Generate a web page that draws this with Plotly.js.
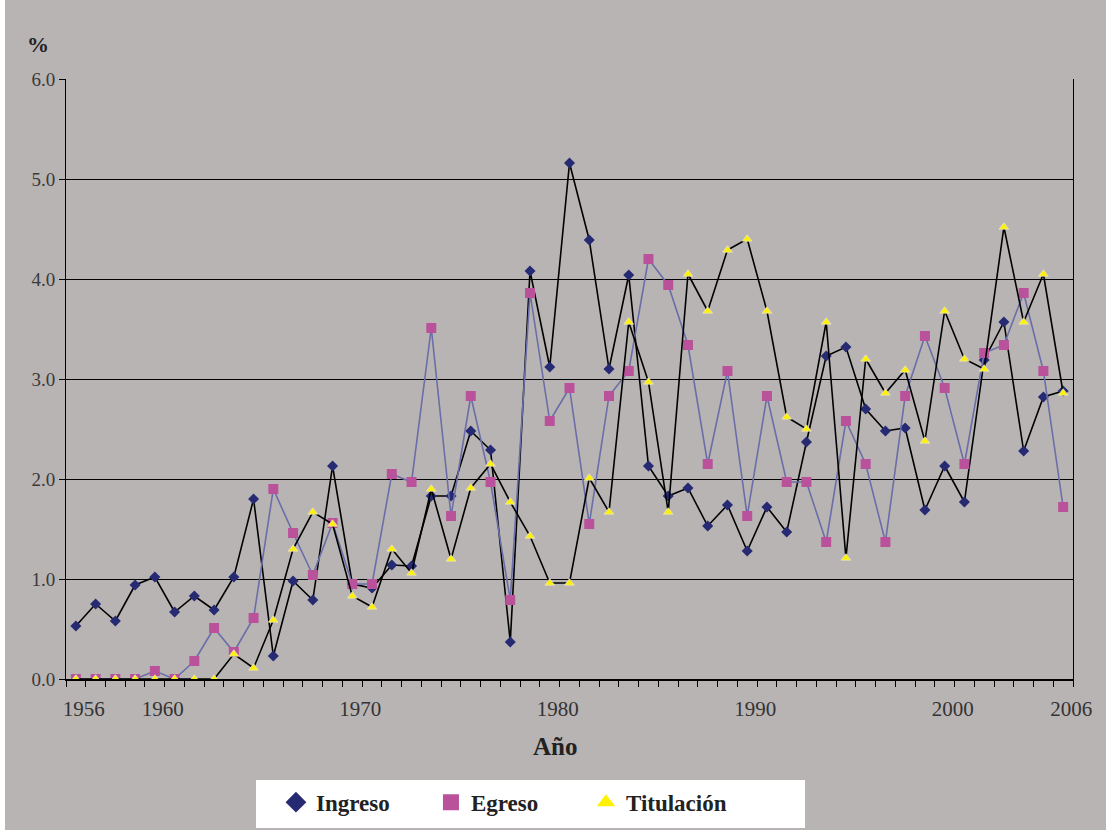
<!DOCTYPE html>
<html>
<head>
<meta charset="utf-8">
<script src="https://cdn.plot.ly/plotly-3.0.1.min.js"></script>
<style>
  html, body { margin: 0; padding: 0; background: #ffffff; }
  #chart { position: absolute; left: 5px; top: 0; width: 1101px; height: 830px; }
</style>
</head>
<body>
<div id="chart"></div>
<script>
// Years 1956..2006
const years = [];
for (let y = 1956; y <= 2006; y++) years.push(y);

const ingreso = [
  0.53, 0.75, 0.58, 0.94, 1.02, 0.67, 0.83, 0.69, 1.02, 1.80,
  0.23, 0.98, 0.79, 2.13, 0.95, 0.91, 1.14, 1.13, 1.83, 1.83,
  2.48, 2.29, 0.37, 4.08, 3.12, 5.16, 4.39, 3.10, 4.04, 2.13,
  1.83, 1.91, 1.53, 1.74, 1.28, 1.72, 1.47, 2.37, 3.23, 3.32,
  2.70, 2.48, 2.51, 1.69, 2.13, 1.77, 3.19, 3.57, 2.28, 2.82,
  2.88
];

const egreso = [
  0.00, 0.00, 0.00, 0.00, 0.08, 0.00, 0.18, 0.51, 0.27, 0.61,
  1.90, 1.46, 1.04, 1.56, 0.95, 0.95, 2.05, 1.97, 3.51, 1.63,
  2.83, 1.97, 0.79, 3.86, 2.58, 2.91, 1.55, 2.83, 3.08, 4.20,
  3.94, 3.34, 2.15, 3.08, 1.63, 2.83, 1.97, 1.97, 1.37, 2.58,
  2.15, 1.37, 2.83, 3.43, 2.91, 2.15, 3.26, 3.34, 3.86, 3.08,
  1.72
];

const titulacion = [
  0.00, 0.00, 0.00, 0.00, 0.00, 0.00, 0.00, 0.00, 0.25, 0.11,
  0.59, 1.30, 1.67, 1.55, 0.83, 0.72, 1.30, 1.06, 1.90, 1.20,
  1.91, 2.15, 1.77, 1.43, 0.96, 0.96, 2.01, 1.67, 3.57, 2.97,
  1.67, 4.05, 3.68, 4.29, 4.40, 3.68, 2.62, 2.50, 3.57, 1.21,
  3.20, 2.86, 3.09, 2.38, 3.68, 3.20, 3.10, 4.52, 3.57, 4.05,
  2.86
];

const tickYears = [1956, 1960, 1970, 1980, 1990, 2000, 2006];
const tickLabels = ['1956', '1960', '1970', '1980', '1990', '2000', '2006'];
const seriesNames = ['Ingreso', 'Egreso', 'Titulación'];

const colIngreso = '#262A73';
const colEgreso = '#BA519B';
const colTitul = '#FFF200';
const bg = '#B9B4B4';
const serif = 'Liberation Serif';

const traces = [
  { x: years, y: ingreso, name: seriesNames[0], mode: 'lines+markers', showlegend: false,
    line: { color: '#000000', width: 1.6 },
    marker: { symbol: 'diamond', size: 8.5, color: colIngreso } },
  { x: years, y: egreso, name: seriesNames[1], mode: 'lines+markers', showlegend: false,
    line: { color: '#6A6EA8', width: 1.6 },
    marker: { symbol: 'square', size: 10, color: colEgreso } },
  { x: years, y: titulacion, name: seriesNames[2], mode: 'lines+markers', showlegend: false,
    line: { color: '#000000', width: 1.6 },
    marker: { symbol: 'triangle-up', size: 8.5, color: colTitul, line: { color: '#E6E1C8', width: 0.8 } } },
  // legend-only entries (markers only, as in the reference legend)
  { x: [null], y: [null], name: seriesNames[0], mode: 'markers',
    marker: { symbol: 'diamond', size: 16, color: colIngreso } },
  { x: [null], y: [null], name: seriesNames[1], mode: 'markers',
    marker: { symbol: 'square', size: 16, color: colEgreso } },
  { x: [null], y: [null], name: seriesNames[2], mode: 'markers',
    marker: { symbol: 'triangle-up', size: 16, color: colTitul } }
];

const layout = {
  width: 1101, height: 830,
  paper_bgcolor: bg, plot_bgcolor: bg,
  margin: { l: 61, r: 33, t: 79, b: 151, autoexpand: false },
  font: { family: serif, color: '#333333' },
  xaxis: {
    range: [1955.5, 2006.5],
    tickmode: 'array', tickvals: tickYears, ticktext: tickLabels,
    ticks: 'outside', ticklen: 6, tickcolor: 'rgba(0,0,0,0)',
    ticklabelshift: 8, ticklabelstandoff: 4,
    tickfont: { family: serif, size: 21, color: '#333333' },
    minor: { tickmode: 'linear', tick0: 1955.5, dtick: 1, ticks: 'outside', ticklen: 6, tickwidth: 1, tickcolor: '#000000', showgrid: false },
    showgrid: false, zeroline: false,
    showline: true, linecolor: '#000000', linewidth: 2
  },
  yaxis: {
    range: [0, 6], tickmode: 'linear', tick0: 0, dtick: 1, tickformat: '.1f',
    ticks: 'outside', ticklen: 6, tickcolor: '#000000', tickwidth: 1,
    tickfont: { family: serif, size: 19, color: '#3a3a3a' },
    showgrid: true, gridcolor: '#000000', gridwidth: 1,
    zeroline: false,
    showline: true, linecolor: '#000000', linewidth: 1, mirror: true
  },
  shapes: [
    { type: 'rect', xref: 'paper', yref: 'paper', x0: 0.1887, x1: 0.7339, y0: -0.2483, y1: -0.1683,
      fillcolor: '#ffffff', line: { width: 0 }, layer: 'above' }
  ],
  legend: {
    orientation: 'h', x: 0.2085, xanchor: 'left', y: -0.1695, yanchor: 'top',
    bgcolor: 'rgba(0,0,0,0)', borderwidth: 0,
    font: { family: serif, size: 23, color: '#222222', weight: 700 },
    entrywidth: 110, entrywidthmode: 'pixels',
    itemsizing: 'trace'
  },
  annotations: [
    { text: '%', xref: 'paper', yref: 'paper', x: -0.0278, y: 1.0567, xanchor: 'center', yanchor: 'middle',
      showarrow: false, font: { family: serif, size: 22, color: '#222222', weight: 700 } },
    { text: 'Año', xref: 'paper', yref: 'paper', x: 0.4853, y: -0.113, xanchor: 'center', yanchor: 'middle',
      showarrow: false, font: { family: serif, size: 25, color: '#222222', weight: 700 } }
  ]
};

Plotly.newPlot('chart', traces, layout, { displayModeBar: false, staticPlot: true });
</script>
</body>
</html>
